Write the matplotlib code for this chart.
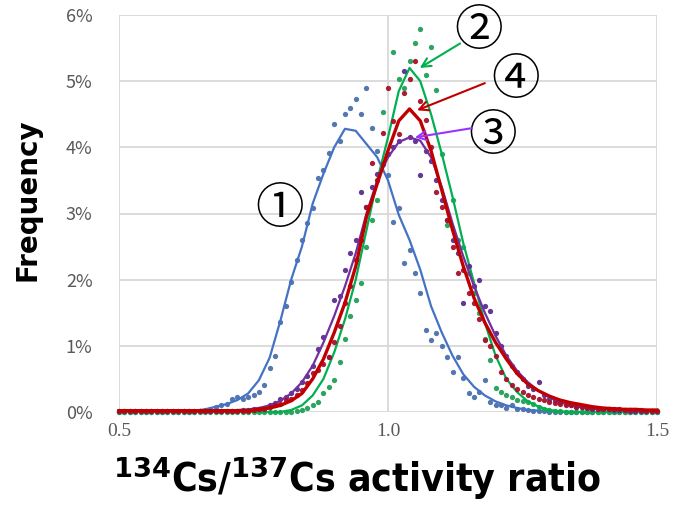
import numpy as np
import matplotlib
matplotlib.use("Agg")
import matplotlib.pyplot as plt
from matplotlib.ticker import FuncFormatter
from matplotlib import font_manager as fm

# ---------------- data (values in %) ----------------
x_dots = np.round(np.arange(0.50, 1.5001, 0.01), 2)
x_line = np.round(np.arange(0.50, 1.5001, 0.02), 2)

blue_dots = ([0]*15 +
             [0.02, 0.03, 0.05, 0.07, 0.1, 0.12, 0.2, 0.23, 0.2, 0.23, 0.26, 0.3, 0.41, 0.66, 0.85] +
             [1.36, 1.6, 1.96, 2.3, 2.6, 2.85, 3.08, 3.53, 3.66, 3.92] +
             [4.35, 4.1, 4.5, 4.6, 4.73, 4.5, 4.89, 4.29, 3.95, 3.75] +
             [3.58, 2.87, 3.08, 2.25, 2.45, 2.1, 1.8, 1.24, 1.09, 1.19] +
             [1.0, 0.83, 0.6, 0.83, 0.51, 0.29, 0.23, 0.3, 0.48, 0.15] +
             [0.11, 0.1, 0.06, 0.1, 0.05, 0.04, 0.03, 0.02, 0.02, 0.01] +
             [0]*21)

green_dots = ([0]*33 +
              [0.02, 0.03, 0.06, 0.1, 0.15, 0.28, 0.38] +
              [0.48, 0.75, 1.1, 1.45, 1.7, 1.95, 2.5, 2.9, 3.2, 4.53] +
              [3.9, 5.44, 5.04, 4.9, 5.3, 5.57, 5.79, 5.1, 5.51, 4.86] +
              [3.9, 2.83, 3.2, 2.6, 2.5, 2.1, 1.8, 1.5, 1.1, 0.79] +
              [0.36, 0.3, 0.26, 0.22, 0.18, 0.16, 0.15, 0.12, 0.08, 0.05] +
              [0.03, 0.02, 0.01, 0, 0, 0, 0, 0, 0, 0] +
              [0]*11)

red_dots = ([0.02]*25 +
            [0.03, 0.04, 0.05, 0.08, 0.1] +
            [0.12, 0.18, 0.2, 0.26, 0.33, 0.44, 0.59, 0.63, 0.72, 0.83] +
            [1.06, 1.3, 1.65, 1.9, 2.3, 2.6, 3.1, 3.76, 3.5, 4.22] +
            [4.9, 4.4, 4.2, 4.82, 5.03, 5.3, 4.7, 4.41, 4.0, 3.32] +
            [3.1, 2.9, 2.5, 2.1, 2.15, 1.8, 1.65, 1.4, 1.09, 1.0] +
            [0.85, 0.6, 0.5, 0.41, 0.35, 0.3, 0.25, 0.22, 0.2, 0.18] +
            [0.15, 0.14, 0.12, 0.1, 0.1, 0.08, 0.07, 0.06, 0.06, 0.05] +
            [0.05, 0.04, 0.04, 0.04, 0.03, 0.03, 0.03, 0.03, 0.02, 0.02, 0.02])

purple_dots = ([0.02]*23 +
               [0.03, 0.03, 0.04, 0.05, 0.06, 0.1, 0.14] +
               [0.2, 0.22, 0.29, 0.35, 0.45, 0.55, 0.7, 0.95, 1.13, 0.83] +
               [1.69, 1.75, 2.14, 2.4, 2.6, 3.32, 3.1, 3.4, 3.6, 3.75] +
               [3.9, 4.0, 4.1, 5.16, 4.15, 4.1, 3.58, 3.95, 3.8, 3.5] +
               [3.2, 2.9, 2.6, 2.4, 1.64, 2.2, 1.9, 2.0, 1.6, 1.52] +
               [1.2, 1.0, 0.85, 0.7, 0.6, 0.5, 0.4, 0.35, 0.45, 0.25] +
               [0.2, 0.18, 0.15, 0.12, 0.1, 0.08, 0.07, 0.06, 0.05, 0.05] +
               [0.04, 0.04, 0.03, 0.03, 0.03, 0.02, 0.02, 0.02, 0.02, 0.02, 0.02])

blue_line = ([0, 0, 0, 0, 0, 0, 0.01] +
             [0.02, 0.04, 0.08, 0.12, 0.18, 0.28, 0.48, 0.82, 1.38, 2.0, 2.5, 3.15, 3.6, 4.0, 4.28,
              4.25, 4.05, 3.85, 3.5, 2.98, 2.6, 2.15, 1.6, 1.2, 0.85, 0.57, 0.38, 0.25, 0.16, 0.1,
              0.06, 0.03, 0.02, 0.01] +
             [0]*10)

green_line = ([0]*16 +
              [0.03, 0.1, 0.25, 0.5, 0.9, 1.4, 2.0, 2.75, 3.5, 4.15, 4.85, 5.2, 5.0, 4.5, 3.9,
               3.25, 2.55, 1.95, 1.35, 0.85, 0.5, 0.3, 0.16, 0.08, 0.03, 0.01] +
              [0]*9)

red_line = ([0.02]*13 +
            [0.04, 0.06, 0.1, 0.17, 0.28, 0.5, 0.8, 1.2, 1.65, 2.2, 2.95, 3.45, 3.95, 4.4, 4.58,
             4.4, 3.95, 3.35, 2.75, 2.2, 1.72, 1.35, 1.05, 0.8, 0.58, 0.42, 0.32, 0.24, 0.18,
             0.14, 0.11, 0.08, 0.06, 0.05, 0.04, 0.04, 0.03, 0.03])

purple_line = ([0.02]*11 +
               [0.03, 0.04, 0.06, 0.1, 0.17, 0.28, 0.45, 0.7, 1.05, 1.45, 1.9, 2.4, 3.0, 3.5, 3.85,
                4.08, 4.15, 4.1, 3.85, 3.4, 2.85, 2.35, 1.9, 1.5, 1.15, 0.85, 0.62, 0.45, 0.32,
                0.22, 0.15, 0.1, 0.07, 0.05, 0.04, 0.03, 0.03, 0.02, 0.02, 0.02])

x_ticks = [0.5, 1.0, 1.5]
x_tick_labels = ["0.5", "1.0", "1.5"]
y_ticks = [0, 1, 2, 3, 4, 5, 6]

# ---------------- figure ----------------
W, H = 673, 508
fig = plt.figure(figsize=(W / 100, H / 100), dpi=100)
ax = fig.add_axes([119 / W, 1 - 412 / H, (657 - 119) / W, (412 - 15) / H])

ax.set_xlim(0.5, 1.5)
ax.set_ylim(0, 6)
for s in ax.spines.values():
    s.set_visible(False)
ax.set_xticks(x_ticks)
ax.set_xticklabels(x_tick_labels)
ax.set_yticks(y_ticks)
ax.yaxis.set_major_formatter(FuncFormatter(lambda v, p: f"{int(round(v))}%"))
ax.grid(True, color="#D9D9D9", linewidth=1.3)
ax.set_axisbelow(True)
ax.tick_params(axis="both", length=0)
ax.tick_params(axis="y", pad=19, labelsize=13, labelcolor="#595959")
ax.tick_params(axis="x", pad=8, labelsize=14, labelcolor="#595959")
for lab in ax.get_xticklabels():
    lab.set_family("Liberation Serif")
for lab in ax.get_yticklabels():
    lab.set_family("Noto Sans CJK JP")

series = [
    (blue_dots, blue_line, "#4472C4", "#4A70AA", 1.6),
    (green_dots, green_line, "#00B050", "#21A055", 1.6),
    (purple_dots, purple_line, "#7030A0", "#5B2C8F", 1.6),
    (red_dots, red_line, "#C00000", "#A8102A", 2.4),
]
for dots, line, lc, dc, lw in series:
    ax.plot(x_dots, dots, linestyle="none", marker="o", ms=3.8, color=dc,
            markeredgewidth=0, clip_on=False, alpha=0.95)
    ax.plot(x_line, line, color=lc, lw=lw, solid_joinstyle="round", clip_on=False)

# labels
fig.text(28 / W, 1 - 200 / H, "Frequency", rotation=90, ha="center", va="center",
         fontsize=20, fontweight="bold", family="DejaVu Sans")

cond = fm.FontProperties(family="DejaVu Sans", weight="bold", stretch="condensed", size=28)
fig.text(357 / W, 1 - 478 / H,
         r"$^{\mathbf{134}}$Cs/$^{\mathbf{137}}$Cs activity ratio",
         ha="center", va="center", fontproperties=cond)

# annotations
cfont = dict(family=["Noto Sans CJK JP", "DejaVu Sans"], fontsize=35, fontweight="normal",
             ha="center", va="center")
ax.text(0.799, 3.07, "①", **cfont)
ax.text(1.169, 5.76, "②", **cfont)
ax.text(1.238, 5.02, "④", **cfont)
ax.text(1.195, 4.17, "③", **cfont)

arrows = [
    ((1.059, 5.2), (1.134, 5.57), "#00B050"),
    ((1.054, 4.56), (1.180, 4.97), "#C00000"),
    ((1.050, 4.15), (1.156, 4.29), "#9933FF"),
]
for tgt, src, col in arrows:
    ax.annotate("", xy=tgt, xytext=src,
                arrowprops=dict(arrowstyle="->", color=col, lw=1.5, mutation_scale=16,
                                shrinkA=0, shrinkB=0))

fig.savefig("out.png", dpi=100)
